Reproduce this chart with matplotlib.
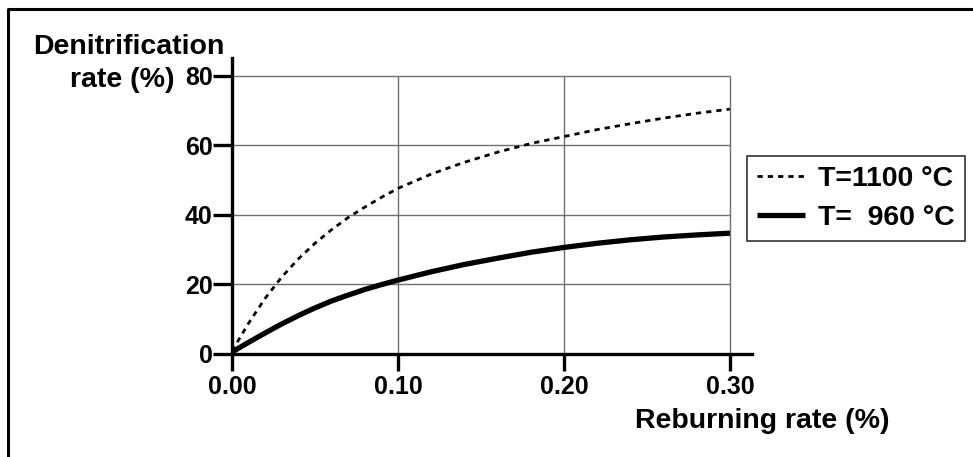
import matplotlib
matplotlib.use("Agg")
import matplotlib.pyplot as plt
from matplotlib.lines import Line2D

plt.rcParams['font.family'] = ['Liberation Sans', 'DejaVu Sans']
plt.rcParams['font.weight'] = 'bold'

# Reburning rate (%) and denitrification rate (%) for two temperatures
reburn_1100 = [0.00, 0.01, 0.02, 0.03, 0.04, 0.05, 0.06, 0.07, 0.08, 0.09, 0.10,
               0.12, 0.14, 0.16, 0.18, 0.20, 0.22, 0.24, 0.26, 0.28, 0.30]
denit_1100 = [0.8, 8.8, 16.0, 22.1, 27.3, 31.8, 35.7, 39.2, 42.2, 45.0, 47.6,
              51.7, 55.1, 58.0, 60.5, 62.5, 64.5, 66.2, 67.8, 69.2, 70.4]

reburn_960 = [0.00, 0.01, 0.02, 0.03, 0.04, 0.05, 0.06, 0.07, 0.08, 0.09, 0.10,
              0.12, 0.14, 0.16, 0.18, 0.20, 0.22, 0.24, 0.26, 0.28, 0.30]
denit_960 = [0.5, 3.3, 6.0, 8.6, 11.0, 13.2, 15.2, 16.9, 18.5, 19.9, 21.2,
             23.6, 25.7, 27.5, 29.2, 30.6, 31.8, 32.8, 33.6, 34.2, 34.7]

x_ticks = [0.00, 0.10, 0.20, 0.30]
x_tick_labels = ['0.00', '0.10', '0.20', '0.30']
y_ticks = [0, 20, 40, 60, 80]
labels = ['T=1100 °C', 'T=  960 °C']

W, H = 973, 457
fig = plt.figure(figsize=(W / 100, H / 100), dpi=100)

# axes box in pixel units
left_px, right_px, bottom_px, top_px = 232, 752, 353.8, 58
ax = fig.add_axes([left_px / W, 1 - bottom_px / H,
                   (right_px - left_px) / W, (bottom_px - top_px) / H])
ax.set_xlim(0, 0.3133)
ax.set_ylim(0, 85.1)

# grid restricted to the data range
grid_kw = dict(color='#707070', lw=1.0, zorder=1)
ax.hlines(y_ticks[1:], x_ticks[0], x_ticks[-1], **grid_kw)
ax.vlines(x_ticks[1:], y_ticks[0], y_ticks[-1], **grid_kw)

ax.plot(reburn_1100, denit_1100, color='black', lw=2.0, dashes=(1.9, 1.8),
        label=labels[0], zorder=3)
ax.plot(reburn_960, denit_960, color='black', lw=3.8, label=labels[1],
        solid_capstyle='butt', solid_joinstyle='round', zorder=3)

for s in ['top', 'right']:
    ax.spines[s].set_visible(False)
for s in ['left', 'bottom']:
    ax.spines[s].set_linewidth(2.4)
    ax.spines[s].set_zorder(4)

ax.set_xticks(x_ticks)
ax.set_xticklabels(x_tick_labels)
ax.set_yticks(y_ticks)
ax.tick_params(axis='y', direction='out', length=13.5, width=2.4, pad=0.5,
               labelsize=18)
ax.tick_params(axis='x', direction='out', length=12, width=2.4, pad=3.0,
               labelsize=18)
for lab in ax.get_xticklabels() + ax.get_yticklabels():
    lab.set_fontweight('bold')

# axis titles
fig.text(33 / W, 1 - 54 / H, 'Denitrification', ha='left', va='baseline',
         fontsize=20.5, fontweight='bold')
fig.text(174 / W, 1 - 87 / H, 'rate (%)', ha='right', va='baseline',
         fontsize=20.5, fontweight='bold')
fig.text(635 / W, 1 - 428 / H, 'Reburning rate (%)', ha='left', va='baseline',
         fontsize=20.5, fontweight='bold')

leg = fig.legend(loc='upper left', bbox_to_anchor=(747 / W, 1 - 156 / H),
                 frameon=True, fancybox=False, fontsize=20.5,
                 handlelength=1.7, handletextpad=0.45, labelspacing=0.45,
                 borderpad=0.35, borderaxespad=0)
leg.get_frame().set_edgecolor('black')
leg.get_frame().set_linewidth(1.2)
for t in leg.get_texts():
    t.set_fontweight('bold')

# page border (left and top edges)
fig.add_artist(Line2D([8 / W, 8 / W, 1.01], [-0.01, 1 - 9 / H, 1 - 9 / H],
                      transform=fig.transFigure, color='black', lw=2.2))

fig.savefig('out.png', dpi=100)
